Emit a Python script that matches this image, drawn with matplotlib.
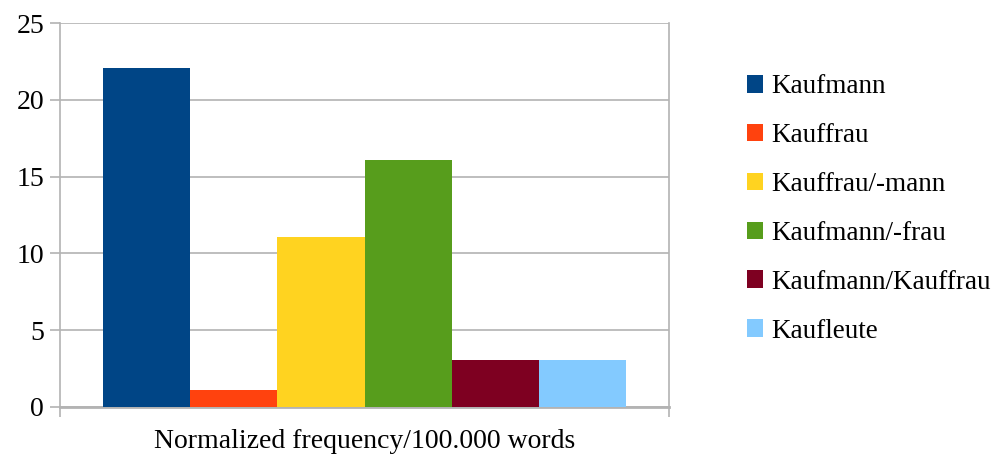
import numpy as np
import matplotlib.pyplot as plt

plt.rcParams['font.family'] = ['Liberation Serif', 'DejaVu Serif']

labels = ['Kaufmann', 'Kauffrau', 'Kauffrau/-mann', 'Kaufmann/-frau',
          'Kaufmann/Kauffrau', 'Kaufleute']
values = [22.1, 1.1, 11.05, 16.1, 3.05, 3.05]
colors = ['#004586', '#ff420e', '#ffd320', '#579d1c', '#7e0021', '#83caff']
category = 'Normalized frequency/100.000 words'

grid_col = '#b3b3b3'

fig = plt.figure(figsize=(9.94, 4.57), dpi=100)
ax = fig.add_axes([0.0604, 0.110, 0.6127, 0.839])

# six bars side by side inside the single category slot
n = len(values)
group_w = 0.86
bar_w = group_w / n
xs = -group_w / 2 + bar_w * (np.arange(n) + 0.5)
for x, v, c, lab in zip(xs, values, colors, labels):
    ax.bar(x, v, width=bar_w, color=c, label=lab, zorder=3, linewidth=0)

ax.set_xlim(-0.5, 0.5)
ax.set_ylim(0, 25)
ax.set_yticks(np.arange(0, 26, 5))
ax.yaxis.grid(True, color=grid_col, linewidth=1.2, zorder=0)

# category boundary ticks below the axis
ax.set_xticks([-0.5, 0.5])
ax.set_xticklabels(['', ''])
ax.set_xticks([0], minor=True)
ax.set_xticklabels([category], minor=True, fontsize=20)
ax.tick_params(axis='x', which='minor', length=0, pad=16)
ax.tick_params(axis='x', which='major', length=7.5, width=1.2, color=grid_col,
               direction='out')
ax.tick_params(axis='y', length=7.5, width=1.2, color=grid_col, labelsize=20,
               pad=4)

for s in ['left', 'right']:
    ax.spines[s].set_color(grid_col)
    ax.spines[s].set_linewidth(1.2)
ax.spines['bottom'].set_color(grid_col)
ax.spines['bottom'].set_linewidth(2)
ax.spines['top'].set_visible(False)

leg = ax.legend(loc='upper left', bbox_to_anchor=(1.105, 0.902), frameon=False,
                fontsize=19.5, handlelength=0.62, handleheight=0.62,
                handletextpad=0.3, labelspacing=0.88, borderpad=0)

fig.savefig('out.png', dpi=100)
